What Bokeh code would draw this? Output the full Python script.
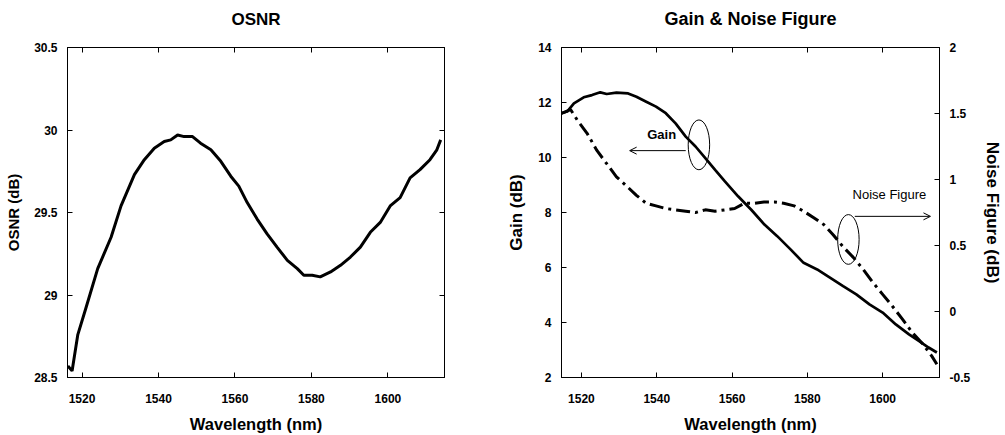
from bokeh.plotting import figure
from bokeh.models import (Range1d, LinearAxis, FixedTicker, Label, Arrow, OpenHead,
                          CustomLabelingPolicy)
from bokeh.layouts import row
from bokeh.embed import file_html
from bokeh.resources import INLINE

# ---------------- data ----------------
osnr_wl = [1516.3, 1517.4, 1518.9, 1521.0, 1524.1, 1527.6, 1530.2, 1533.7, 1536.3, 1538.9,
           1541.5, 1543.2, 1545.0, 1546.7, 1548.9, 1551.0, 1553.7, 1556.3, 1558.9, 1561.0,
           1563.2, 1565.8, 1568.4, 1571.0, 1573.7, 1576.3, 1578.0, 1580.2, 1582.3, 1585.0,
           1587.6, 1590.2, 1592.8, 1595.4, 1598.0, 1600.6, 1603.2, 1605.8, 1608.4, 1611.0,
           1612.8, 1613.8]
osnr_db = [28.57, 28.54, 28.76, 28.92, 29.16, 29.35, 29.54, 29.73, 29.82, 29.89,
           29.93, 29.94, 29.97, 29.96, 29.96, 29.92, 29.88, 29.81, 29.72, 29.66,
           29.56, 29.46, 29.37, 29.29, 29.21, 29.16, 29.12, 29.12, 29.11, 29.14,
           29.18, 29.23, 29.29, 29.38, 29.44, 29.54, 29.59, 29.71, 29.76, 29.82,
           29.88, 29.94]

gain_wl = [1514.7, 1516.2, 1518.0, 1520.6, 1522.8, 1525.0, 1526.7, 1529.3, 1532.4, 1534.6,
           1537.2, 1539.8, 1542.4, 1545.0, 1547.7, 1550.3, 1552.9, 1555.5, 1558.1, 1561.6,
           1565.1, 1568.6, 1572.0, 1575.6, 1579.0, 1582.6, 1586.0, 1589.5, 1593.0, 1596.5,
           1600.0, 1603.5, 1607.0, 1609.6, 1612.2, 1614.4]
gain_db = [11.61, 11.67, 11.97, 12.19, 12.27, 12.37, 12.31, 12.36, 12.33, 12.21,
           12.03, 11.85, 11.61, 11.24, 10.76, 10.40, 9.98, 9.55, 9.13, 8.59,
           8.10, 7.56, 7.14, 6.65, 6.17, 5.93, 5.63, 5.32, 5.02, 4.66,
           4.36, 3.93, 3.57, 3.33, 3.09, 2.91]

nf_wl = [1514.7, 1517.1, 1518.9, 1521.5, 1524.1, 1526.7, 1529.3, 1532.0, 1534.6, 1537.2,
         1539.8, 1542.4, 1545.0, 1547.7, 1550.3, 1552.9, 1555.5, 1558.1, 1560.7, 1563.3,
         1565.9, 1568.5, 1571.2, 1573.7, 1576.5, 1579.0, 1581.7, 1584.3, 1586.9, 1589.5,
         1592.2, 1594.8, 1597.4, 1600.0, 1602.6, 1605.3, 1607.9, 1610.5, 1613.1, 1614.4]
nf_db = [1.50, 1.53, 1.45, 1.35, 1.22, 1.12, 1.02, 0.95, 0.88, 0.82,
         0.80, 0.78, 0.77, 0.76, 0.75, 0.77, 0.76, 0.77, 0.78, 0.82,
         0.82, 0.83, 0.83, 0.82, 0.80, 0.76, 0.71, 0.66, 0.58, 0.49,
         0.41, 0.32, 0.22, 0.13, 0.04, -0.06, -0.16, -0.24, -0.34, -0.40]

x_ticks = [1520, 1540, 1560, 1580, 1600]
osnr_ticks = [28.5, 29, 29.5, 30, 30.5]
gain_ticks = [2, 4, 6, 8, 10, 12, 14]
nf_ticks = [-0.5, 0, 0.5, 1, 1.5, 2]

# annotation ellipses (wavelength, gain-axis value)
ell_x = [1551.2, 1590.9]
ell_y = [10.46, 7.02]

FONT = "Liberation Sans"
NO_LABELS = CustomLabelingPolicy(code="return new Set()")


def fmt(v):
    return ("%g" % v)


def style_axis(ax, label_size="12px", title_size="16.5px"):
    ax.major_tick_in = 5
    ax.major_tick_out = 0
    ax.minor_tick_in = 0
    ax.minor_tick_out = 0
    ax.axis_line_color = "black"
    ax.major_tick_line_color = "black"
    ax.major_label_text_font = FONT
    ax.major_label_text_font_style = "bold"
    ax.major_label_text_font_size = label_size
    ax.major_label_text_color = "black"
    ax.axis_label_text_font = FONT
    ax.axis_label_text_font_style = "bold"
    ax.axis_label_text_font_size = title_size
    ax.axis_label_text_color = "black"


def mirror_axis(p, side, ticks, **kw):
    ax = LinearAxis(ticker=FixedTicker(ticks=ticks), major_label_policy=NO_LABELS, **kw)
    style_axis(ax)
    ax.major_label_standoff = 0
    p.add_layout(ax, side)


def base_fig(title, title_size, width, xr, yr, bl, br):
    p = figure(width=width, height=435, output_backend="svg", toolbar_location=None,
               x_range=Range1d(*xr), y_range=Range1d(*yr),
               min_border_left=bl, min_border_right=br, min_border_top=47, min_border_bottom=57)
    p.title.text = title
    p.title.align = "center"
    p.title.text_font = FONT
    p.title.text_font_style = "bold"
    p.title.text_font_size = title_size
    p.title.text_color = "black"
    p.title.standoff = 13
    p.xgrid.visible = False
    p.ygrid.visible = False
    p.outline_line_color = "black"
    p.outline_line_width = 1
    p.background_fill_color = "white"
    p.border_fill_color = "white"
    p.xaxis.ticker = FixedTicker(ticks=x_ticks)
    p.xaxis.axis_label = "Wavelength (nm)"
    style_axis(p.xaxis[0])
    p.xaxis.major_label_standoff = 16
    p.xaxis.axis_label_standoff = 9
    mirror_axis(p, "above", x_ticks)
    return p


# ---------------- left: OSNR ----------------
p1 = base_fig("OSNR", "17px", 495, (1516.2, 1614.8), (28.5, 30.5), 67, 51)
p1.yaxis.ticker = FixedTicker(ticks=osnr_ticks)
p1.yaxis.major_label_overrides = {t: fmt(t) for t in osnr_ticks}
p1.yaxis.axis_label = "OSNR (dB)"
style_axis(p1.yaxis[0], title_size="15px")
p1.yaxis.major_label_standoff = 10
p1.yaxis.axis_label_standoff = 9
mirror_axis(p1, "right", osnr_ticks)
p1.line(osnr_wl, osnr_db, line_color="black", line_width=3)

# ---------------- right: Gain & Noise Figure ----------------
p2 = base_fig("Gain & Noise Figure", "18px", 510, (1514.7, 1615.1), (2, 14), 66, 60)
p2.yaxis.ticker = FixedTicker(ticks=gain_ticks)
p2.yaxis.axis_label = "Gain (dB)"
style_axis(p2.yaxis[0], title_size="17px")
p2.yaxis.major_label_standoff = 10
p2.yaxis.axis_label_standoff = 9
p2.extra_y_ranges = {"nf": Range1d(-0.5, 2)}
r2 = LinearAxis(y_range_name="nf", ticker=FixedTicker(ticks=nf_ticks),
                axis_label="Noise Figure (dB)")
r2.major_label_overrides = {t: fmt(t) for t in nf_ticks}
style_axis(r2, title_size="17px")
r2.major_label_standoff = 10
r2.axis_label_standoff = 10
p2.add_layout(r2, "right")

p2.line(gain_wl, gain_db, line_color="black", line_width=2.7)
p2.line(nf_wl, nf_db, y_range_name="nf", line_color="black", line_width=3,
        line_dash="14 5 3 5")

p2.ellipse(x=ell_x, y=ell_y, width=5.7, height=1.81, fill_color=None,
           line_color="black", line_width=1)
p2.add_layout(Arrow(end=OpenHead(size=7, line_width=1, line_color="black"),
                    x_start=1547.7, y_start=10.25, x_end=1532.8, y_end=10.25,
                    line_width=1, line_color="black"))
p2.add_layout(Arrow(end=OpenHead(size=7, line_width=1, line_color="black"),
                    x_start=1592.6, y_start=7.86, x_end=1612.7, y_end=7.86,
                    line_width=1, line_color="black"))
p2.add_layout(Label(x=1541.3, y=10.85, text="Gain", text_align="center",
                    text_baseline="middle", text_font=FONT, text_font_style="bold",
                    text_font_size="13px", text_color="black"))
p2.add_layout(Label(x=1601.8, y=8.65, text="Noise Figure", text_align="center",
                    text_baseline="middle", text_font=FONT,
                    text_font_size="13px", text_color="black"))

layout = row(p1, p2)
open("out.html", "w").write(file_html(layout, INLINE))
